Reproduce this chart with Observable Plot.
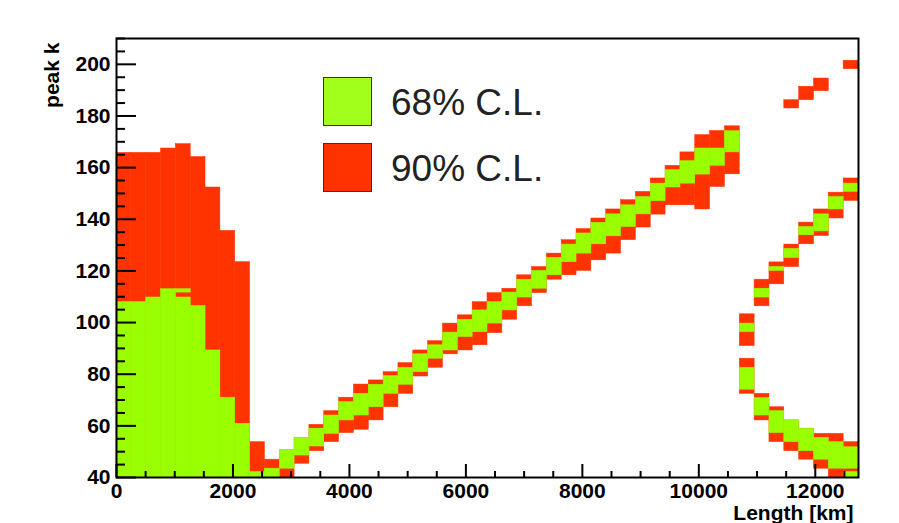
<!DOCTYPE html>
<html><head><meta charset="utf-8">
<script src="https://cdn.jsdelivr.net/npm/d3@7"></script>
<script src="https://cdn.jsdelivr.net/npm/@observablehq/plot@0.6"></script>
<style>
body{margin:0;background:#fff;}
#wrap{position:relative;width:899px;height:523px;}
.lg-box{position:absolute;width:49px;height:49px;box-sizing:border-box;border:1px solid #333;}
.lg-txt{position:absolute;font-family:"Liberation Sans",Arial,sans-serif;font-size:37px;line-height:37px;color:#222;white-space:nowrap;}
</style></head>
<body><div id="wrap"></div>
<script>
// ---- data ----
const binWidthKm = 12742 / 50;          // Length bins (km)
const xTicks = [0, 2000, 4000, 6000, 8000, 10000, 12000];
const xMinorTicks = [500,1000,1500,2500,3000,3500,4500,5000,5500,6500,7000,7500,8500,9000,9500,10500,11000,11500,12500];
const yTicks = [40, 60, 80, 100, 120, 140, 160, 180, 200];
const yMinorTicks = [45,50,55,65,70,75,85,90,95,105,110,115,125,130,135,145,150,155,165,170,175,185,190,195,205,210];
const legendLabels = ["68% C.L.", "90% C.L."];
const xLabel = "Length [km]";
const yLabel = "peak k";

// 90% C.L. cells: [length bin, k low, k high]
const red90 = [
  [0,40,165.7],[1,40,165.7],[2,40,165.7],[3,40,167.4],[4,40,169.1],[5,40,164.1],[6,40,152.3],[7,40,135.5],[8,40,123.4],
  [9,40,53.7],[10,40,46.9],[11,40,50.5],[12,45.3,55.4],[13,50.2,60.4],[14,53.7,65.7],[15,57.2,70.9],[16,58.5,76.0],
  [17,62.1,77.6],[18,67.2,80.8],[19,72.4,84.3],[20,79.1,89.2],[21,82.5,92.8],[22,87.7,99.6],[23,89.2,102.8],
  [24,91.2,107.9],[25,95.9,111.4],[26,101.1,113.1],[27,106.3,118.3],[28,111.4,121.5],[29,116.6,126.7],[30,118.3,131.9],
  [31,120.0,136.2],[32,124.1,140.3],[33,126.7,143.8],[34,131.9,147.4],[35,136.8,150.6],[36,141.8,155.8],[37,145.4,160.7],
  [38,145.4,165.9],[39,143.8,172.6],[40,152.5,174.2],[41,157.4,176.0],
  [42,72.4,86.0],[43,62.1,72.4],[44,53.7,67.2],[45,50.2,62.1],[46,46.9,58.9],[47,43.4,56.9],[48,40,56.9],[49,40,53.7],
  [42,90.9,103.2],[43,106.3,116.6],[44,114.8,123.3],[45,121.5,130.2],[46,130.3,138.7],[47,133.5,143.8],[48,140.3,150.3],[49,147.1,155.8],
  [45,182.9,186.1],[46,186.1,191.3],[47,189.6,194.5],[49,198.1,201.4]
];
// 68% C.L. cells: [length bin, k low, k high]
const green68 = [
  [0,40,107.9],[1,40,107.9],[2,40,109.7],[3,40,112.9],[4,40,109.7],[4,111.6,112.9],[5,40,106.4],[6,40,89.2],[7,40,70.9],[8,40,60.8],
  [9,40,42.1],[10,40,43.4],[11,43.4,50.5],[12,48.5,55.4],[13,52.0,58.9],[14,56.9,64.0],[15,62.1,69.2],[16,64.0,72.4],
  [17,67.2,75.9],[18,72.4,79.3],[19,75.9,82.5],[20,80.8,87.7],[21,86.0,91.2],[22,89.2,96.1],[23,94.4,101.1],
  [24,96.3,104.7],[25,99.6,107.9],[26,104.7,111.6],[27,109.7,116.6],[28,113.1,120.0],[29,118.3,125.1],[30,123.4,130.2],
  [31,126.7,134.5],[32,130.3,138.6],[33,133.4,141.9],[34,137.0,145.4],[35,141.9,148.6],[36,147.0,153.8],[37,152.3,159.0],
  [38,153.8,162.5],[39,157.3,167.4],[40,160.7,167.4],[41,165.9,174.1],
  [42,74.0,82.5],[43,64.0,70.7],[44,57.2,65.7],[45,53.7,62.1],[46,50.2,58.9],[47,46.9,55.4],[48,43.4,53.7],[49,43.4,51.7],[49,40,42.1],
  [42,96.3,99.6],[43,109.7,113.1],[44,120.0,121.5],[45,125.0,128.5],[46,133.8,137.0],[47,135.3,141.9],[48,143.8,148.6],[49,150.6,153.8]
];

// ---- drawing ----
const RED = "#ff3300", GREEN = "#99ff00";
const W = 899, H = 523, mL = 116, mR = 41, mT = 38, mB = 46;
const plotW = W - mL - mR, plotH = H - mT - mB;
const toRect = ([b, lo, hi]) => ({x1: b * binWidthKm, x2: (b + 1) * binWidthKm, y1: lo, y2: hi});
const FONT = "'Liberation Sans', Arial, Helvetica, sans-serif";

const chart = Plot.plot({
  width: W, height: H,
  marginLeft: mL, marginRight: mR, marginTop: mT, marginBottom: mB,
  x: {domain: [0, 12742]},
  y: {domain: [40, 210]},
  style: {fontFamily: FONT, fontSize: "21px", fontWeight: "bold", background: "white", color: "black", overflow: "visible"},
  marks: [
    Plot.rect(red90.map(toRect), {x1: "x1", x2: "x2", y1: "y1", y2: "y2", fill: RED, stroke: RED, strokeWidth: 0.5}),
    Plot.rect(green68.map(toRect), {x1: "x1", x2: "x2", y1: "y1", y2: "y2", fill: GREEN, stroke: GREEN, strokeWidth: 0.5}),
    Plot.tickY(yTicks, {y: d => d, insetRight: plotW - 20, stroke: "black", strokeWidth: 2}),
    Plot.tickY(yMinorTicks, {y: d => d, insetRight: plotW - 9, stroke: "black", strokeWidth: 2}),
    Plot.tickX(xTicks, {x: d => d, insetTop: plotH - 13, stroke: "black", strokeWidth: 2}),
    Plot.tickX(xMinorTicks, {x: d => d, insetTop: plotH - 6, stroke: "black", strokeWidth: 2}),
    Plot.frame({stroke: "black", strokeWidth: 2}),
    Plot.axisX({ticks: xTicks, tickSize: 0, tickPadding: 6, label: null, tickFormat: d => String(d), fontSize: 21, fontWeight: "bold"}),
    Plot.axisY({ticks: yTicks, tickSize: 0, tickPadding: 6, label: null, tickFormat: d => String(d), fontSize: 21, fontWeight: "bold"}),
    Plot.text([xLabel], {frameAnchor: "bottom-right", text: d => d, textAnchor: "end", lineAnchor: "middle", dx: -5, dy: 36, fontSize: 21, fontWeight: "bold"}),
    Plot.text([yLabel], {frameAnchor: "top-left", text: d => d, rotate: -90, textAnchor: "end", lineAnchor: "middle", dx: -64, dy: 4, fontSize: 21, fontWeight: "bold"})
  ]
});
const wrap = document.getElementById("wrap");
wrap.appendChild(chart);

// legend
const legend = [
  {label: legendLabels[0], color: "#a2ff1c", top: 77},
  {label: legendLabels[1], color: RED, top: 143}
];
for (const l of legend) {
  const b = document.createElement("div");
  b.className = "lg-box"; b.style.left = "323px"; b.style.top = l.top + "px"; b.style.background = l.color;
  wrap.appendChild(b);
  const t = document.createElement("div");
  t.className = "lg-txt"; t.style.left = "391px"; t.style.top = (l.top + 7) + "px"; t.textContent = l.label;
  wrap.appendChild(t);
}
</script></body></html>
